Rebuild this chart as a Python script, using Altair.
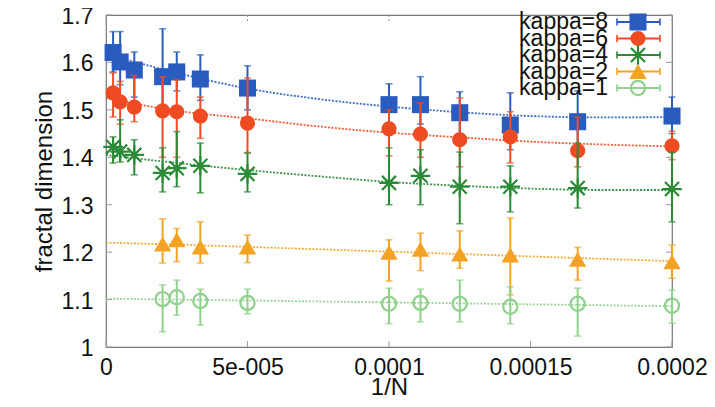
import altair as alt
import pandas as pd

# ---------------- data ----------------
inv_n = [2.5e-6, 5e-6, 1e-5, 2e-5, 2.5e-5, 3.3333e-5, 5e-5,
         1e-4, 1.1111e-4, 1.25e-4, 1.42857e-4, 1.66667e-4, 2e-4]
inv_n_short = inv_n[3:]

series_names = ["kappa=8", "kappa=6", "kappa=4", "kappa=2", "kappa=1"]

k8_y = [1.621, 1.601, 1.584, 1.570, 1.580, 1.565, 1.546, 1.511, 1.511, 1.494, 1.468, 1.475, 1.487]
k8_lo = [1.580, 1.553, 1.527, 1.500, 1.540, 1.520, 1.500, 1.468, 1.470, 1.450, 1.416, 1.420, 1.450]
k8_hi = [1.665, 1.665, 1.622, 1.671, 1.622, 1.616, 1.593, 1.555, 1.570, 1.538, 1.536, 1.540, 1.527]

k6_y = [1.536, 1.517, 1.506, 1.498, 1.496, 1.487, 1.472, 1.460, 1.449, 1.437, 1.443, 1.414, 1.424]
k6_lo = [1.485, 1.470, 1.475, 1.400, 1.400, 1.440, 1.410, 1.403, 1.400, 1.380, 1.388, 1.380, 1.395]
k6_hi = [1.578, 1.560, 1.572, 1.570, 1.563, 1.527, 1.567, 1.500, 1.515, 1.525, 1.496, 1.485, 1.455]

k4_y = [1.422, 1.412, 1.405, 1.367, 1.377, 1.382, 1.365, 1.346, 1.361, 1.338, 1.338, 1.335, 1.333]
k4_lo = [1.388, 1.390, 1.363, 1.327, 1.338, 1.325, 1.327, 1.300, 1.300, 1.260, 1.285, 1.293, 1.264]
k4_hi = [1.443, 1.479, 1.437, 1.420, 1.454, 1.430, 1.409, 1.420, 1.416, 1.411, 1.382, 1.430, 1.410]

k2_y = [1.217, 1.226, 1.211, 1.211, 1.200, 1.206, 1.196, 1.194, 1.185, 1.180]
k2_lo = [1.177, 1.180, 1.177, 1.178, 1.139, 1.161, 1.166, 1.110, 1.141, 1.145]
k2_hi = [1.270, 1.250, 1.264, 1.236, 1.226, 1.240, 1.245, 1.272, 1.210, 1.215]

k1_y = [1.101, 1.105, 1.097, 1.093, 1.091, 1.093, 1.091, 1.085, 1.091, 1.087]
k1_lo = [1.032, 1.067, 1.046, 1.070, 1.049, 1.053, 1.053, 1.049, 1.023, 1.050]
k1_hi = [1.131, 1.141, 1.122, 1.122, 1.124, 1.122, 1.141, 1.127, 1.124, 1.120]

# fitted curves
fit_x = [0, 2.5e-5, 5e-5, 7.5e-5, 1e-4, 1.25e-4, 1.5e-4, 1.75e-4, 2e-4]
fit_k8 = [1.618, 1.578, 1.545, 1.523, 1.507, 1.495, 1.487, 1.484, 1.485]
fit_k6 = [1.525, 1.498, 1.482, 1.465, 1.452, 1.442, 1.433, 1.427, 1.423]
fit_k4 = [1.405, 1.388, 1.373, 1.360, 1.348, 1.340, 1.334, 1.331, 1.331]
fit_k2 = [1.220, 1.216, 1.211, 1.206, 1.201, 1.196, 1.191, 1.186, 1.181]
fit_k1 = [1.102, 1.100, 1.098, 1.096, 1.094, 1.092, 1.090, 1.088, 1.086]

x_ticks = [0, 5e-5, 1e-4, 1.5e-4, 2e-4]
x_tick_labels = ["0", "5e-005", "0.0001", "0.00015", "0.0002"]
y_ticks = [1.0, 1.1, 1.2, 1.3, 1.4, 1.5, 1.6, 1.7]
y_tick_labels = ["1", "1.1", "1.2", "1.3", "1.4", "1.5", "1.6", "1.7"]

# ---------------- styling ----------------
FONT = "Liberation Sans"
W, H = 566, 332
colors = ["#2a5cbf", "#ee4b22", "#2a8a35", "#f3a324", "#8fd08c"]
asterisk = "M-1,0L1,0M0,-1L0,1M-0.72,-0.72L0.72,0.72M-0.72,0.72L0.72,-0.72"
shapes = ["square", "circle", asterisk, "triangle-up", "circle"]
filled = [True, True, False, True, False]
sizes = [290, 230, 380, 300, 200]

def label_expr(vals, labs):
    s = ""
    for v, l in zip(vals, labs):
        s += f"abs(datum.value - ({v})) < 1e-9 ? '{l}' : "
    return s + "''"

x_axis = alt.Axis(values=x_ticks, labelExpr=label_expr(x_ticks, x_tick_labels),
                  title="1/N", grid=False, domain=False, ticks=False,
                  labelFont=FONT, labelFontSize=23, labelColor="#111",
                  labelPadding=9, titleFont=FONT, titleFontSize=24,
                  titleFontWeight="normal", titleColor="#111",
                  titleY=40, titleBaseline="middle",
                  labelFlush=False)
y_axis = alt.Axis(values=y_ticks, labelExpr=label_expr(y_ticks, y_tick_labels),
                  title="fractal dimension", grid=False, domain=False, ticks=False,
                  labelFont=FONT, labelFontSize=23, labelColor="#111",
                  labelPadding=13, labelOffset=1.5, titleFont=FONT, titleFontSize=24,
                  titleFontWeight="normal", titleColor="#111", titlePadding=5,
                  labelFlush=False)
xs = alt.Scale(domain=[0, 0.0002], nice=False, zero=False)
ys = alt.Scale(domain=[1.0, 1.7], nice=False, zero=False)

def X(f):
    return alt.X(f, type="quantitative", scale=xs, axis=x_axis)

def Y(f):
    return alt.Y(f, type="quantitative", scale=ys, axis=y_axis)

series = [
    (inv_n, k8_y, k8_lo, k8_hi, fit_k8),
    (inv_n, k6_y, k6_lo, k6_hi, fit_k6),
    (inv_n, k4_y, k4_lo, k4_hi, fit_k4),
    (inv_n_short, k2_y, k2_lo, k2_hi, fit_k2),
    (inv_n_short, k1_y, k1_lo, k1_hi, fit_k1),
]

layers = []

# mirrored inward ticks
yt = pd.DataFrame({"v": y_ticks})
xt = pd.DataFrame({"v": x_ticks})
tick_col = "#999"
layers.append(alt.Chart(yt).mark_rule(color=tick_col, strokeWidth=1).encode(
    y=Y("v"), x=alt.value(0), x2=alt.value(6)))
layers.append(alt.Chart(yt).mark_rule(color=tick_col, strokeWidth=1).encode(
    y=Y("v"), x=alt.value(W - 6), x2=alt.value(W)))
layers.append(alt.Chart(xt).mark_rule(color=tick_col, strokeWidth=1).encode(
    x=X("v"), y=alt.value(H - 6), y2=alt.value(H)))
layers.append(alt.Chart(xt).mark_rule(color=tick_col, strokeWidth=1, strokeDash=[2, 2]).encode(
    x=X("v"), y=alt.value(0), y2=alt.value(8)))

for i, (xv, yv, lo, hi, fit) in enumerate(series):
    c = colors[i]
    pts = pd.DataFrame({"x": xv, "y": yv, "lo": lo, "hi": hi})
    fdf = pd.DataFrame({"x": fit_x, "y": fit})
    layers.append(alt.Chart(fdf).mark_line(
        color=c, strokeWidth=1.8, strokeDash=[2, 1.5], interpolate="monotone", opacity=0.9
    ).encode(x=X("x"), y=Y("y")))
    layers.append(alt.Chart(pts).mark_rule(color=c, strokeWidth=2).encode(
        x=X("x"), y=Y("lo"), y2="hi"))
    layers.append(alt.Chart(pts).mark_tick(color=c, orient="horizontal", size=7, thickness=1.6).encode(
        x=X("x"), y=Y("lo")))
    layers.append(alt.Chart(pts).mark_tick(color=c, orient="horizontal", size=7, thickness=1.6).encode(
        x=X("x"), y=Y("hi")))
    layers.append(alt.Chart(pts).mark_point(
        shape=shapes[i], filled=filled[i], size=sizes[i], color=c,
        opacity=1, strokeWidth=2.2
    ).encode(x=X("x"), y=Y("y")))

# manual legend (label left, symbol right)
row_y = [7, 23.5, 40, 56.5, 73]
for i, name in enumerate(series_names):
    c = colors[i]
    ld = pd.DataFrame({"label": [name]})
    yy = row_y[i]
    layers.append(alt.Chart(ld).mark_text(
        align="right", baseline="middle", font=FONT, fontSize=23, color="#111"
    ).encode(text="label:N", x=alt.value(502), y=alt.value(yy)))
    layers.append(alt.Chart(ld).mark_rule(color=c, strokeWidth=2).encode(
        x=alt.value(511), x2=alt.value(554), y=alt.value(yy)))
    layers.append(alt.Chart(ld).mark_rule(color=c, strokeWidth=1.6).encode(
        x=alt.value(511), y=alt.value(yy - 3.5), y2=alt.value(yy + 3.5)))
    layers.append(alt.Chart(ld).mark_rule(color=c, strokeWidth=1.6).encode(
        x=alt.value(554), y=alt.value(yy - 3.5), y2=alt.value(yy + 3.5)))
    layers.append(alt.Chart(ld).mark_point(
        shape=shapes[i], filled=filled[i], size=sizes[i], color=c,
        opacity=1, strokeWidth=2.2
    ).encode(x=alt.value(532), y=alt.value(yy)))

chart = alt.layer(*layers).properties(
    width=W, height=H,
    autosize=alt.AutoSizeParams(type="none"),
    padding={"left": 98, "top": 7, "right": 35, "bottom": 52},
    background="white",
).configure_view(stroke="#777", strokeWidth=1.2)

chart.save("out.html", embed_options={"renderer": "svg", "actions": False})
